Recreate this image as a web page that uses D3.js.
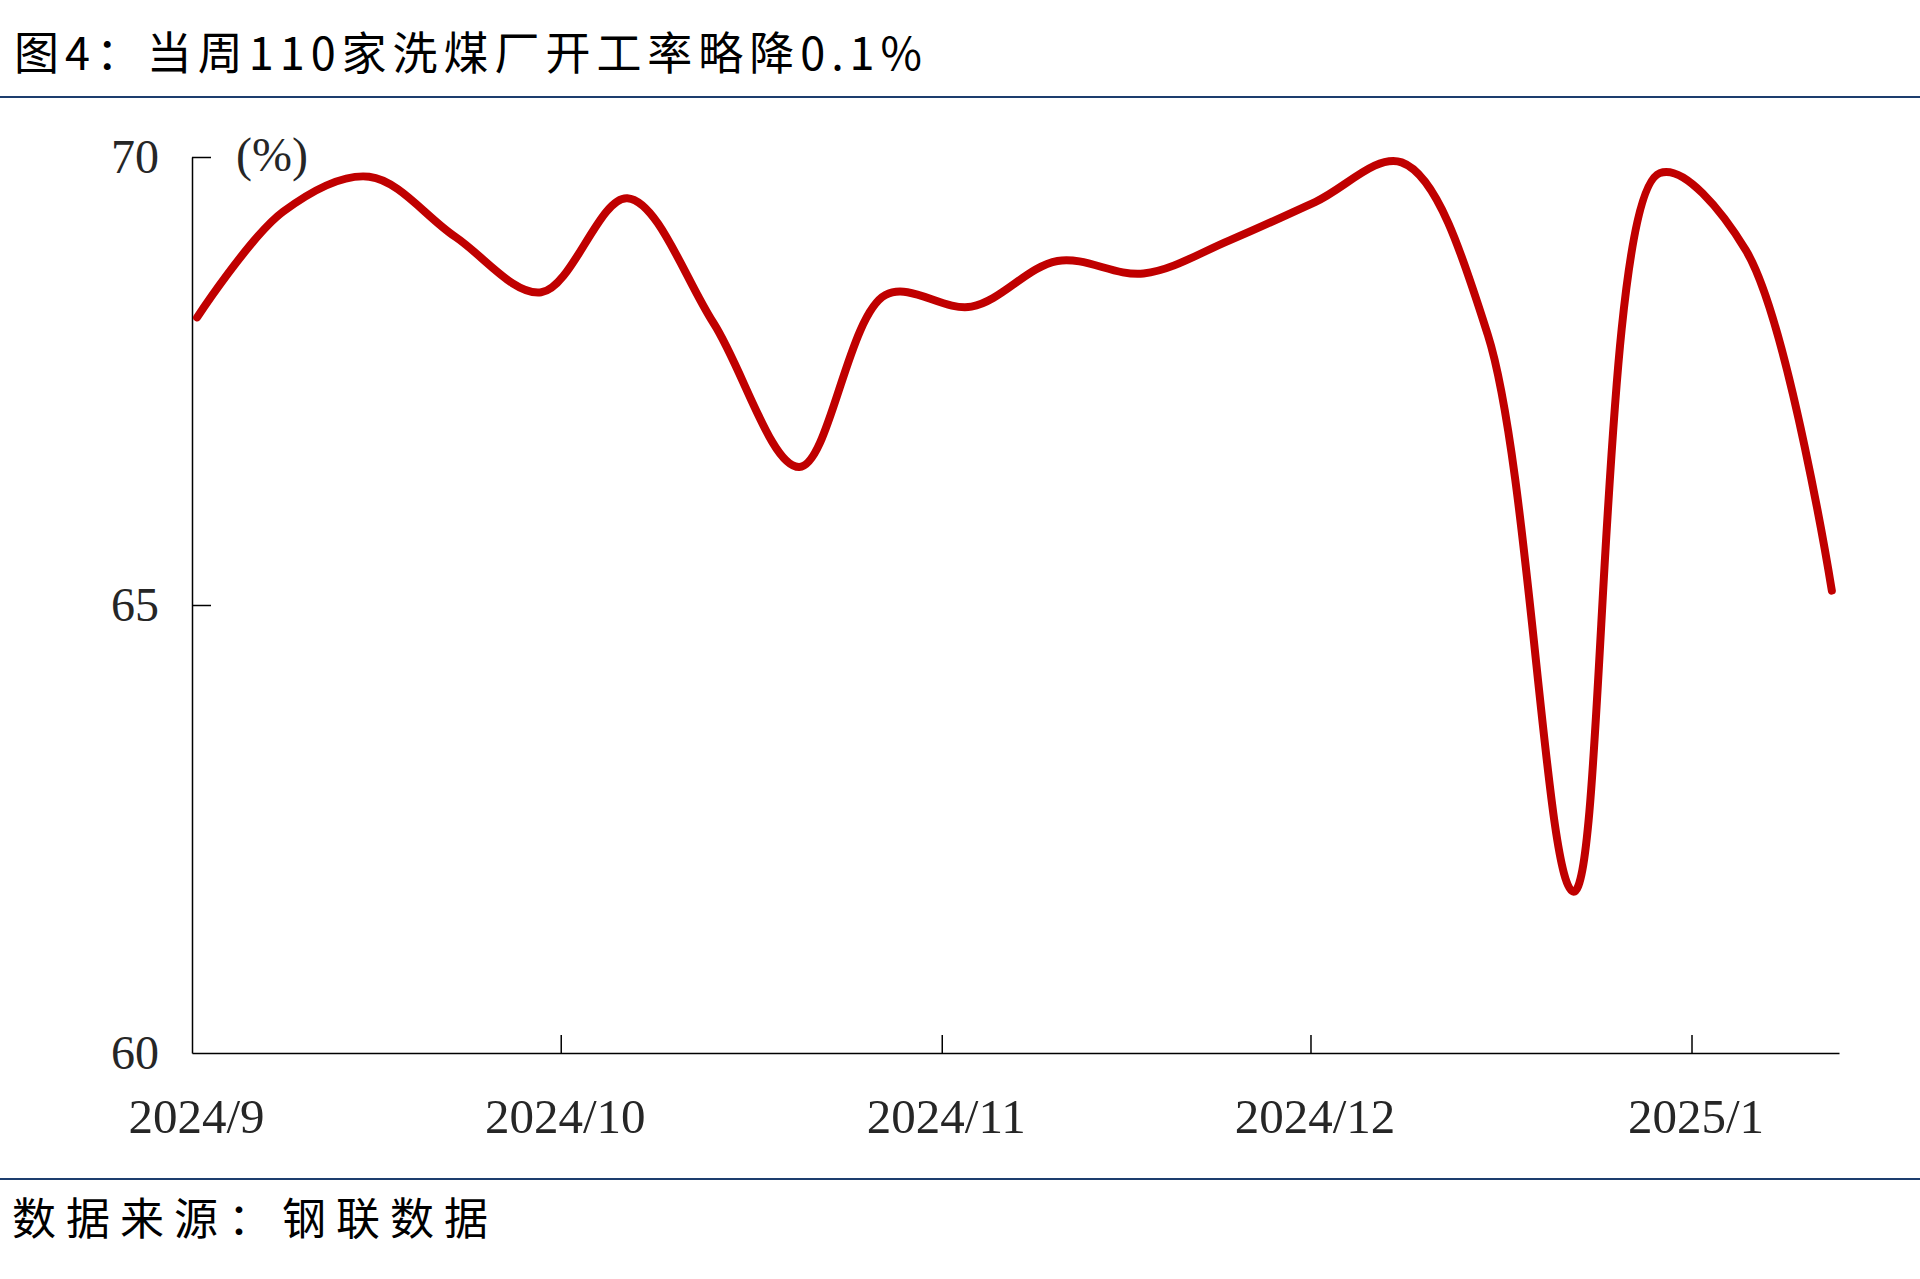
<!DOCTYPE html>
<html><head><meta charset="utf-8">
<script src="https://cdn.jsdelivr.net/npm/d3@7"></script>
<style>
html,body{margin:0;padding:0;background:#fff;}
svg{display:block;}
</style></head>
<body>
<svg id="chart" width="1920" height="1279"></svg>
<script>
// ---- data ----
const titleText = "图4：当周110家洗煤厂开工率略降0.1%";
const sourceText = "数据来源：钢联数据";
const unitLabel = "(%)";
const dates = ["2024-09-01","2024-09-08","2024-09-15","2024-09-22","2024-09-29",
  "2024-10-06","2024-10-13","2024-10-20","2024-10-27","2024-11-03",
  "2024-11-10","2024-11-17","2024-11-24","2024-12-01","2024-12-08",
  "2024-12-15","2024-12-22","2024-12-29","2025-01-05","2025-01-12"];
const values = [68.21,69.39,69.78,69.11,68.49,69.54,68.15,66.54,68.46,68.33,
  68.84,68.70,69.07,69.50,69.94,68.02,61.80,69.82,68.96,65.16];
const xTickDates = ["2024-09-01","2024-10-01","2024-11-01","2024-12-01","2025-01-01"];
const xTickLabels = ["2024/9","2024/10","2024/11","2024/12","2025/1"];
const yTicks = [60,65,70];
const xDomain = ["2024-09-01","2025-01-13"];
const yDomain = [60,70];

// ---- layout ----
const svg = d3.select("#chart");
const parse = d3.timeParse("%Y-%m-%d");
const L = 192, R = 1839, T = 157, B = 1053;

const x = d3.scaleTime().domain(xDomain.map(parse)).range([L, R]);
const y = d3.scaleLinear().domain(yDomain).range([B, T]);

// title
svg.append("text")
  .attr("x", 14).attr("y", 70)
  .attr("font-family", "'Noto Sans CJK SC', sans-serif")
  .attr("font-size", 45)
  .attr("fill", "#000")
  .attr("textLength", 908).attr("lengthAdjust", "spacing")
  .text(titleText);

// rules
svg.append("line").attr("x1",0).attr("x2",1920).attr("y1",97).attr("y2",97)
  .attr("stroke","#1d3d6e").attr("stroke-width",2);
svg.append("line").attr("x1",0).attr("x2",1920).attr("y1",1179).attr("y2",1179)
  .attr("stroke","#1d3d6e").attr("stroke-width",2);

// source
svg.append("text")
  .attr("x", 12).attr("y", 1235)
  .attr("font-family", "'Noto Sans CJK SC', sans-serif")
  .attr("font-size", 44)
  .attr("fill", "#000")
  .attr("textLength", 476).attr("lengthAdjust", "spacing")
  .text(sourceText);

// y axis
const yAxis = d3.axisLeft(y).tickValues(yTicks).tickSize(-19).tickSizeOuter(0)
  .tickPadding(33).tickFormat(d3.format("d"));
const gy = svg.append("g").attr("transform", `translate(${L},0)`).call(yAxis);
gy.select(".domain").attr("stroke","#000").attr("stroke-width",1.5);
gy.selectAll(".tick line").attr("stroke","#000").attr("stroke-width",1.5);
gy.selectAll(".tick text")
  .attr("font-family","'Liberation Serif', 'Times New Roman', serif")
  .attr("font-size",48).attr("fill","#262626");
gy.selectAll(".tick").filter(d => d === 60).select("line").remove();

// x axis
const xAxis = d3.axisBottom(x).tickValues(xTickDates.map(parse)).tickSize(-18).tickSizeOuter(0)
  .tickPadding(0).tickFormat((d,i) => xTickLabels[i]);
const gx = svg.append("g").attr("transform", `translate(0,${B})`).call(xAxis);
gx.select(".domain").attr("stroke","#000").attr("stroke-width",1.5);
gx.selectAll(".tick line").attr("stroke","#000").attr("stroke-width",1.5);
gx.selectAll(".tick").filter((d,i) => i === 0).select("line").remove();
gx.selectAll(".tick text")
  .attr("y", 63).attr("dy","0.35em")
  .attr("font-family","'Liberation Serif', 'Times New Roman', serif")
  .attr("font-size",49).attr("fill","#262626")
  .attr("dx", (d,i) => i === 0 ? 4 : 4);

// unit label
svg.append("text")
  .attr("x", 236).attr("y", T).attr("dy","0.3em")
  .attr("font-family","'Liberation Serif', 'Times New Roman', serif")
  .attr("font-size",48).attr("fill","#262626")
  .text(unitLabel);

// line (points plotted mid-day on a date axis)
const line = d3.line()
  .x((d,i) => x(d3.timeHour.offset(parse(dates[i]), 10)))
  .y(d => y(d))
  .curve(d3.curveCatmullRom.alpha(0.5));
svg.append("path")
  .datum(values)
  .attr("d", line)
  .attr("fill","none")
  .attr("stroke","#c00000")
  .attr("stroke-width",8)
  .attr("stroke-linecap","round")
  .attr("stroke-linejoin","round");
</script>
</body></html>
